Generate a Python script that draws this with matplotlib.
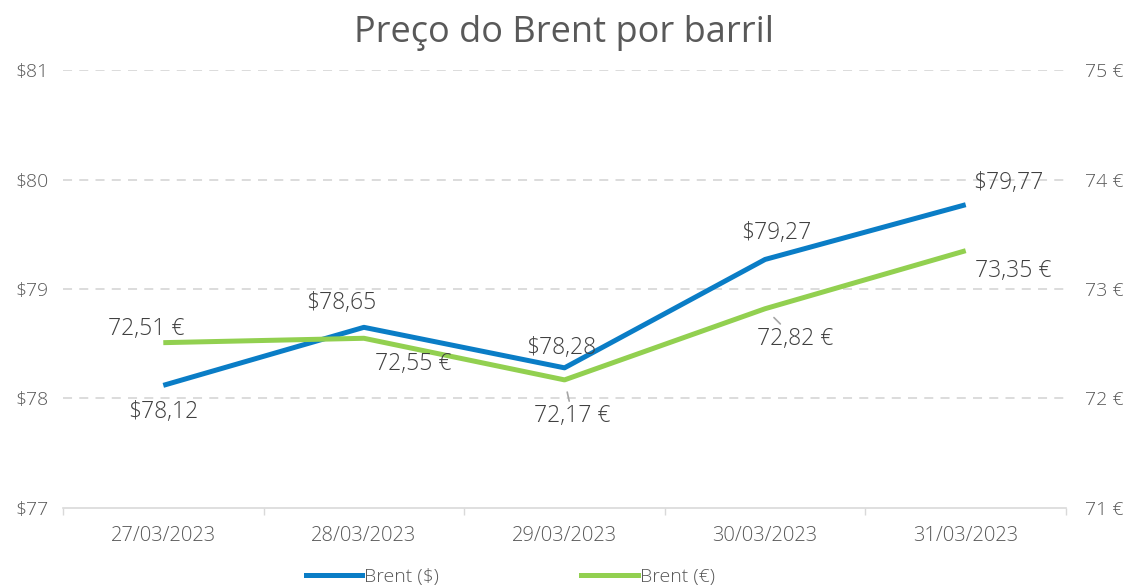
import matplotlib
matplotlib.use("Agg")
import matplotlib.pyplot as plt
from matplotlib.ticker import FixedLocator

plt.rcParams['font.family'] = ['Open Sans', 'DejaVu Sans']
plt.rcParams['font.weight'] = 'light'

dates = ["27/03/2023", "28/03/2023", "29/03/2023", "30/03/2023", "31/03/2023"]
brent_usd = [78.12, 78.65, 78.28, 79.27, 79.77]
brent_eur = [72.51, 72.55, 72.17, 72.82, 73.35]
usd_ticks = [77, 78, 79, 80, 81]
eur_ticks = [71, 72, 73, 74, 75]

BLUE = "#0A7DC6"
GREEN = "#92D050"
TXT = "#595959"

fig = plt.figure(figsize=(11.29, 5.87), dpi=100)
ax = fig.add_axes([0.0558, 0.1346, 0.8884, 0.7461])
ax2 = ax.twinx()

x = list(range(len(dates)))
ax.plot(x, brent_usd, color=BLUE, lw=3.6, solid_capstyle='butt', zorder=3)
ax2.plot(x, brent_eur, color=GREEN, lw=3.6, solid_capstyle='butt', zorder=3)

ax.set_xlim(-0.5, len(dates) - 0.5)
ax.set_ylim(77, 81)
ax2.set_ylim(71, 75)
ax.set_yticks(usd_ticks)
ax.set_yticklabels([f"${v}" for v in usd_ticks])
ax2.set_yticks(eur_ticks)
ax2.set_yticklabels([f"{v} €" for v in eur_ticks])
ax.set_xticks(x)
ax.set_xticklabels(dates)
ax.xaxis.set_minor_locator(FixedLocator([i - 0.5 for i in range(len(dates) + 1)]))

for a in (ax, ax2):
    for s in a.spines.values():
        s.set_visible(False)
    a.tick_params(axis='y', length=0, labelsize=14, labelcolor=TXT, pad=10)
ax.tick_params(axis='x', which='major', length=0, labelsize=14.5, labelcolor=TXT, pad=13)
ax.tick_params(axis='x', which='minor', length=5, color="#D9D9D9", width=1)
ax2.tick_params(axis='y', pad=14)
ax.spines['bottom'].set_visible(True)
ax.spines['bottom'].set_color("#D9D9D9")
ax.spines['bottom'].set_linewidth(1.2)

for v in usd_ticks[1:]:
    ax.axhline(v, color="#D9D9D9", lw=1.3, ls=(0, (5, 4)), zorder=1)

def fmt(v):
    return f"{v:.2f}".replace(".", ",")

usd_off = [(0, -27), (-23, 24), (-3, 20), (11, 26), (43, 22)]
eur_off = [(-17, 14), (49, -26), (8, -36), (30, -30), (48, -20)]
eur_leader = [False, False, True, True, False]

for i, v in enumerate(brent_usd):
    ax.annotate(f"${fmt(v)}", (i, v), xytext=usd_off[i], textcoords='offset pixels',
                ha='center', va='center', fontsize=16.5, color="#404040", zorder=5)
for i, v in enumerate(brent_eur):
    kw = {}
    if eur_leader[i]:
        kw['arrowprops'] = dict(arrowstyle='-', color="#A6A6A6", lw=1.2, shrinkA=0, shrinkB=9)
    ax2.annotate(f"{fmt(v)} €", (i, v), xytext=eur_off[i], textcoords='offset pixels',
                 ha='center', va='center', fontsize=16.5, color="#404040", zorder=5, **kw)

fig.suptitle("Preço do Brent por barril", x=0.5, y=0.975, fontsize=26, color=TXT)

h1 = plt.Line2D([], [], color=BLUE, lw=3.6)
h2 = plt.Line2D([], [], color=GREEN, lw=3.6)
leg = fig.legend([h1, h2], ["Brent ($)", "Brent (€)"], loc='lower center',
                 bbox_to_anchor=(0.452, -0.028), ncol=2, frameon=False, fontsize=14,
                 handlelength=2.9, handletextpad=0.1, columnspacing=7.3)
for t in leg.get_texts():
    t.set_color(TXT)

fig.savefig("out.png", dpi=100)
